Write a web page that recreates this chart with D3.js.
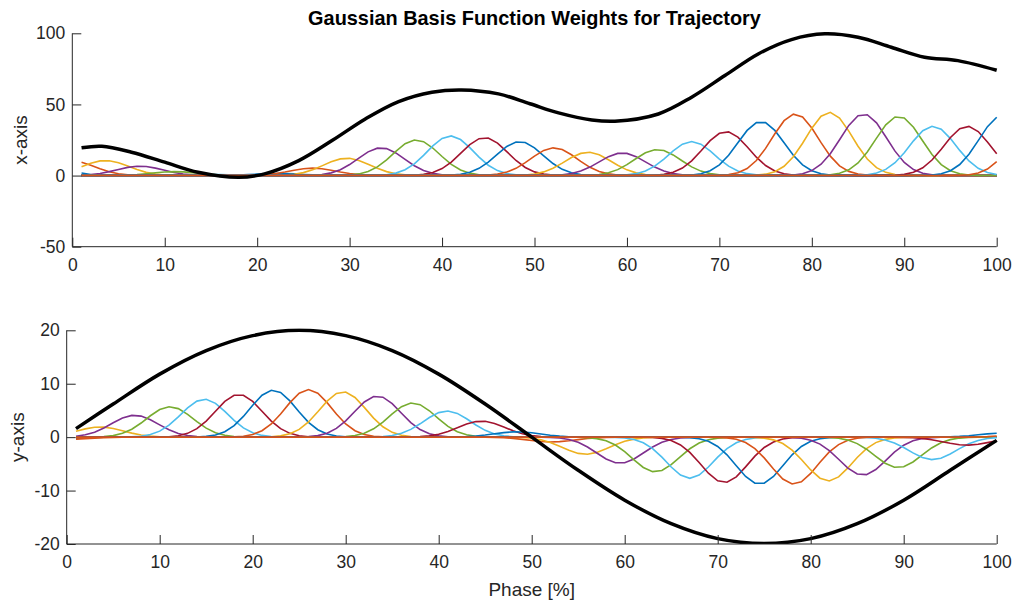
<!DOCTYPE html>
<html>
<head>
<meta charset="utf-8">
<script src="https://cdn.jsdelivr.net/npm/d3@7"></script>
<style>
  body { margin: 0; background: #fff; }
  svg text { font-family: "Liberation Sans", Arial, Helvetica, sans-serif; fill: #262626; }
  .axis path, .axis line { stroke: #262626; stroke-width: 1; }
</style>
</head>
<body>
<div id="chart"></div>
<script>
// phase samples (MATLAB 1..100)
var phase = d3.range(1, 101);

// basis centers, read from peak positions
var centers = [-3.9, -0.1, 3.6, 7.3, 11.1, 14.8, 18.5, 22.2, 26.0, 29.7,
               33.4, 37.2, 40.9, 44.6, 48.4, 52.1, 55.8, 59.5, 63.3, 67.0,
               70.7, 74.5, 78.2, 81.9, 85.6, 89.4, 93.1, 96.8, 100.6, 104.3];
var sigma = 2.5;

// weights (peak heights) for each basis
var weightsX = [12, 10.4, 10.6, 6.6, 2.8, 0.8, -0.5, 1.5, 5.2, 12.2,
                19.5, 25.1, 27.9, 26.7, 23.9, 19.5, 16.4, 15.9, 18.3, 23.9,
                30.9, 38.0, 43.3, 44.5, 43.3, 41.7, 34.7, 34.7, 42.2, 43];
var weightsY = [-2, -0.4, 1.9, 4.1, 5.7, 7.1, 8.0, 8.8, 8.9, 8.5,
                7.7, 6.4, 4.9, 3.0, 1.0, -0.9, -3.2, -4.9, -6.5, -7.7,
                -8.5, -8.8, -8.8, -8.2, -7.1, -5.7, -4.2, -1.5, 0.75, 1];

// trajectories
var trajXPhase = [1, 3.2, 6.4, 10, 13.6, 18, 20.8, 24.5, 28.1, 31.7, 35.3, 38.9, 42.1, 46.1,
                  49.5, 52.6, 56.2, 58.7, 63.4, 67, 70.6, 74.2, 77.8, 81.4, 85, 88.6, 92.2, 95.8, 100];
var trajX = [19.5, 20.6, 16.4, 9.4, 2.3, -1.2, 1.2, 10.5, 24.6, 39.8, 52.0, 58.6, 60.2, 57.4,
             50.5, 44.1, 39.1, 38.2, 43.3, 55.1, 70.3, 85.5, 95.6, 99.6, 97.2, 90.2, 83.2, 80.8, 74.0];
var trajYPhase = [1, 5, 10, 15, 20, 25, 30, 35, 40, 45, 50, 55, 60, 65, 70, 75, 80, 85, 90, 95, 100];
var trajY = [1.6, 6.2, 11.8, 16.2, 19.0, 20.0, 19.0, 16.2, 11.8, 6.2, 0, -6.2, -11.8, -16.2,
             -19.0, -19.9, -19.0, -16.2, -11.8, -6.2, -0.6];

var xTicks = [0, 10, 20, 30, 40, 50, 60, 70, 80, 90, 100];
var topTicks = [-50, 0, 50, 100];
var botTicks = [-20, -10, 0, 10, 20];

var colors = ['#0072BD', '#D95319', '#EDB120', '#7E2F8E', '#77AC30', '#4DBEEE', '#A2142F'];

var width = 1018, height = 606;

var svg = d3.select("#chart")
            .append("svg")
            .attr("width", width)
            .attr("height", height);

function basis(x, c) {
  return Math.exp(-Math.pow(x - c, 2) / (2 * sigma * sigma));
}

// plain hyphen for negatives, like MATLAB
var fmt = function(d) { return String(d); };

function drawPanel(opt) {
  var x = d3.scaleLinear().domain([0, 100]).range([opt.left, opt.right]);
  var y = d3.scaleLinear().domain(opt.domain).range([opt.bottom, opt.top]);

  var clipId = "clip-" + opt.name;
  svg.append("clipPath").attr("id", clipId)
     .append("rect")
       .attr("x", opt.left).attr("y", opt.top - 2)
       .attr("width", opt.right - opt.left + 2)
       .attr("height", opt.bottom - opt.top + 2);

  var g = svg.append("g").attr("clip-path", "url(#" + clipId + ")");

  var line = d3.line()
               .x(function(d) { return x(d[0]); })
               .y(function(d) { return y(d[1]); });

  opt.weights.forEach(function(w, i) {
    var pts = phase.map(function(p) { return [p, w * basis(p, centers[i])]; });
    g.append("path")
      .datum(pts)
      .attr("d", line)
      .attr("fill", "none")
      .attr("stroke", colors[i % colors.length])
      .attr("stroke-width", 1.6);
  });

  var smooth = d3.line()
                 .curve(d3.curveCatmullRom)
                 .x(function(d) { return x(d[0]); })
                 .y(function(d) { return y(d[1]); });

  g.append("path")
    .datum(opt.trajPhase.map(function(p, i) { return [p, opt.traj[i]]; }))
    .attr("d", smooth)
    .attr("fill", "none")
    .attr("stroke", "#000")
    .attr("stroke-width", 3.5);

  // axes, MATLAB style: ticks pointing inward, no box
  var xAxis = svg.append("g")
                 .attr("class", "axis")
                 .attr("transform", "translate(0," + opt.bottom + ")")
                 .call(d3.axisTop(x).tickValues(xTicks).tickSize(9).tickFormat(fmt));
  xAxis.selectAll("text")
       .attr("y", 12).attr("dy", "0.71em")
       .style("font-size", "17.5px");
  xAxis.select(".domain").attr("d", "M" + opt.left + ",0H" + opt.right);

  var yAxis = svg.append("g")
                 .attr("class", "axis")
                 .attr("transform", "translate(" + opt.left + ",0)")
                 .call(d3.axisRight(y).tickValues(opt.ticks).tickSize(9).tickFormat(fmt));
  yAxis.selectAll("text")
       .attr("x", -7)
       .attr("text-anchor", "end")
       .style("font-size", "17.5px");
  yAxis.select(".domain").attr("d", "M0," + opt.top + "V" + opt.bottom);
  svg.selectAll(".axis text").attr("fill", "#262626");

  svg.append("text")
     .attr("transform", "translate(" + opt.labelX + "," + ((opt.top + opt.bottom) / 2) + ") rotate(-90)")
     .attr("text-anchor", "middle")
     .attr("dy", "0.35em")
     .style("font-size", "19px")
     .text(opt.label);

  return x;
}

var xTop = drawPanel({
  name: "top", left: 72.3, right: 996.7, top: 33.3, bottom: 246.7,
  domain: [-50, 100], ticks: topTicks, weights: weightsX,
  trajPhase: trajXPhase, traj: trajX, label: "x-axis", labelX: 20
});

var xBot = drawPanel({
  name: "bot", left: 66.7, right: 996.7, top: 330.3, bottom: 544,
  domain: [-20, 20], ticks: botTicks, weights: weightsY,
  trajPhase: trajYPhase, traj: trajY, label: "y-axis", labelX: 17
});

svg.append("text")
   .attr("x", (72.3 + 996.7) / 2)
   .attr("y", 25)
   .attr("text-anchor", "middle")
   .style("font-size", "19.9px")
   .style("font-weight", "bold")
   .style("fill", "#000")
   .text("Gaussian Basis Function Weights for Trajectory");

svg.append("text")
   .attr("x", (66.7 + 996.7) / 2)
   .attr("y", 596)
   .attr("text-anchor", "middle")
   .style("font-size", "19px")
   .text("Phase [%]");
</script>
</body>
</html>
